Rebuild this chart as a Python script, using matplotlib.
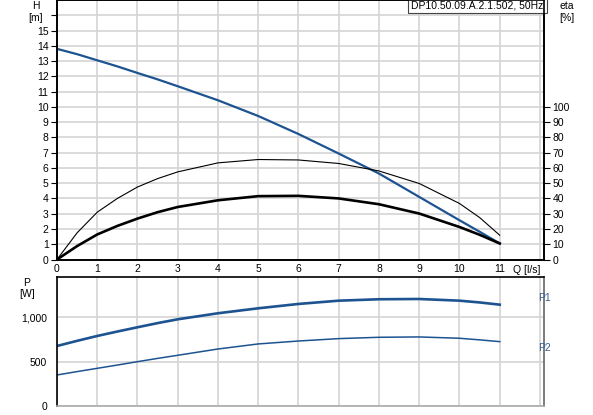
import numpy as np
import matplotlib.pyplot as plt

plt.rcParams['font.family'] = ['Liberation Sans', 'DejaVu Sans']
plt.rcParams['font.size'] = 7.5

# pump curves
q = [0, 0.5, 1, 1.5, 2, 2.5, 3, 4, 5, 6, 7, 8, 9, 10, 10.5, 11]
head = [13.8, 13.45, 13.05, 12.65, 12.22, 11.8, 11.35, 10.43, 9.4, 8.22, 6.94, 5.63, 4.1, 2.57, 1.82, 1.05]
eta_pump = [0, 17.5, 31, 40, 47.5, 53, 57.4, 63.3, 65.5, 65.2, 62.9, 58, 49.8, 36.7, 27.5, 15.9]
eta_total = [0, 8.8, 16.4, 22, 26.8, 31, 34.4, 38.8, 41.5, 41.7, 40, 36.2, 30.1, 21.3, 16.2, 10.5]
p1 = [677, 735, 790, 840, 888, 935, 978, 1046, 1102, 1151, 1188, 1204, 1207, 1188, 1168, 1143]
p2 = [350, 388, 425, 462, 500, 537, 572, 643, 700, 733, 760, 775, 779, 764, 746, 726]

title = 'DP10.50.09.A.2.1.502, 50Hz'
blue = '#1d5391'
grid_c = '#d4d4d4'
W, Hpx = 593, 415

fig = plt.figure(figsize=(W / 100, Hpx / 100), dpi=100)

def box(l, t, r, b):
    return [l / W, 1 - b / Hpx, (r - l) / W, (b - t) / Hpx]

ax = fig.add_axes(box(57, 0, 544, 259.5))
ax.plot(q, head, color=blue, lw=1.6, zorder=4)
ax.set_xlim(0, 12.1)
ax.set_ylim(0, 17)
ax.set_xticks(range(13))
ax.set_xticklabels([str(i) for i in range(12)] + [''])
ax.set_yticks(range(17))
ax.set_yticklabels([str(i) for i in range(16)] + [''])
ax.grid(True, color=grid_c, lw=1.2)
ax.set_axisbelow(True)
ax.tick_params(axis='x', length=0, pad=3)
ax.tick_params(axis='y', length=4, width=0.8, pad=2)
for s in ax.spines.values():
    s.set_linewidth(1.2)

ax2 = ax.twinx()
ax2.plot(q, eta_pump, color='black', lw=0.8)
ax2.plot(q, eta_total, color='black', lw=1.9)
ax2.set_ylim(0, 170)
ax2.set_yticks(range(0, 101, 10))
ax2.tick_params(axis='y', length=4, width=0.8, pad=2)
for s in ax2.spines.values():
    s.set_linewidth(1.2)

# small title box
ax.text(0.999, 0.999, title, transform=ax.transAxes, ha='right', va='top',
        fontsize=7.5, zorder=6,
        bbox=dict(boxstyle='square,pad=0.3', fc='white', ec='#444444', lw=0.8))

bx = fig.add_axes(box(57, 277, 544, 406))
bx.plot(q, p1, color=blue, lw=1.9)
bx.plot(q, p2, color=blue, lw=1.1)
bx.set_xlim(0, 12.1)
bx.set_ylim(0, 1455)
bx.set_xticks(range(13))
bx.set_xticklabels([])
bx.set_yticks([0, 500, 1000])
bx.set_yticklabels(['0', '500', '1,000'])
bx.grid(True, color=grid_c, lw=1.2)
bx.set_axisbelow(True)
bx.tick_params(axis='x', length=0)
bx.tick_params(axis='y', length=0, pad=7)
for k, s in bx.spines.items():
    s.set_linewidth(1.2)
bx.spines['bottom'].set_color('#aaaaaa')
bx.spines['right'].set_color('#666666')

def txt(x, y, s, **kw):
    fig.text(x / W, 1 - y / Hpx, s, fontsize=7.5, **kw)

txt(36, 6, 'H', ha='center', va='center')
txt(36, 18, '[m]', ha='center', va='center')
txt(567, 6, 'eta', ha='center', va='center')
txt(567, 18, '[%]', ha='center', va='center')
txt(527, 270, 'Q [l/s]', ha='center', va='center')
txt(27, 283, 'P', ha='center', va='center')
txt(27, 294, '[W]', ha='center', va='center')
txt(538, 298, 'P1', ha='left', va='center', color='#3a5f8f')
txt(538, 348, 'P2', ha='left', va='center', color='#3a5f8f')

fig.savefig('out.png', dpi=100)
